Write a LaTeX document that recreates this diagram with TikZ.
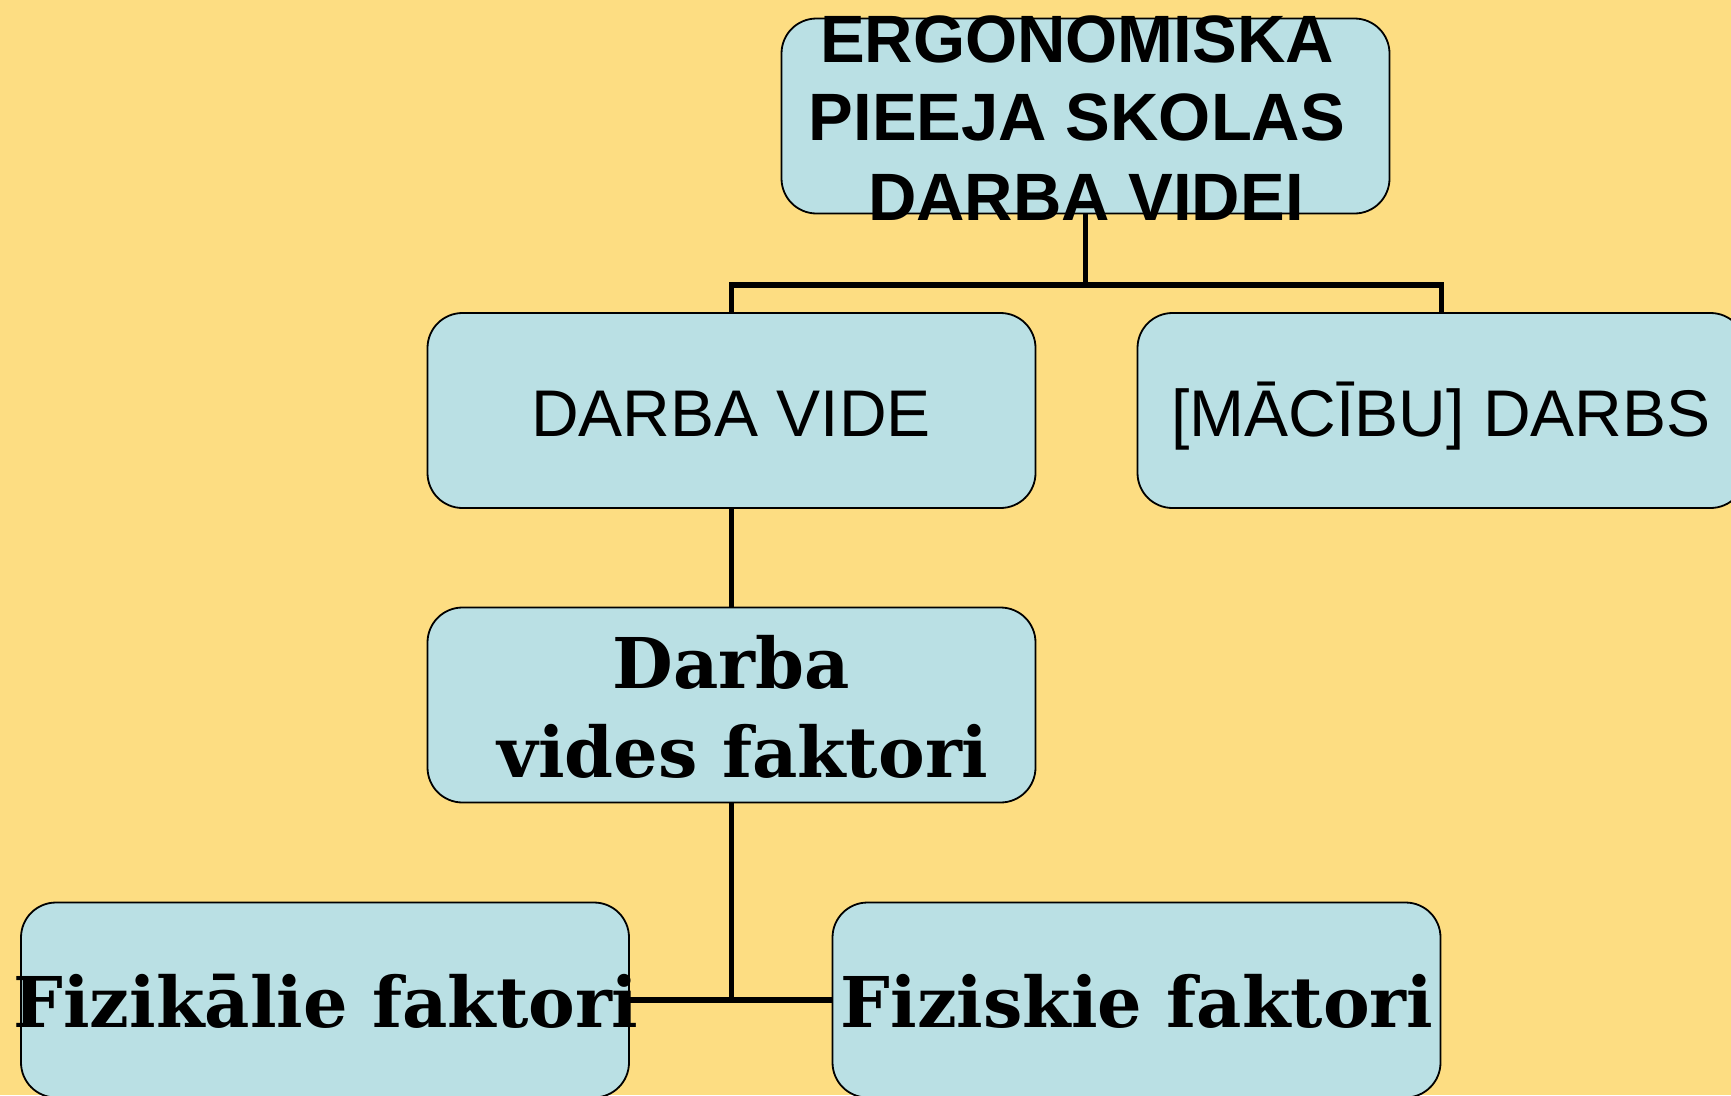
\documentclass[tikz,border=0pt]{standalone}
\usepackage{fontspec}
\setmainfont{Liberation Sans}
\newfontfamily\serifbold{DejaVu Serif}[BoldFont={DejaVu Serif Bold}]
\definecolor{bgyellow}{RGB}{253,221,130}
\definecolor{boxblue}{RGB}{186,224,228}
\begin{document}
\begin{tikzpicture}[x=1pt,y=-1pt,
  boxnode/.style={draw=black,line width=1.8pt,fill=boxblue,rounded corners=35pt,
    minimum width=608pt,minimum height=195pt,inner sep=0pt},
  conn/.style={line width=5.5pt,draw=black},
  sanstitle/.style={font=\fontsize{67}{79}\selectfont\bfseries,anchor=base,inner sep=0pt},
  sansnorm/.style={font=\fontsize{66}{79}\selectfont,anchor=base,inner sep=0pt},
  seriftext/.style={font=\serifbold\fontsize{70}{80}\selectfont\bfseries,anchor=base,inner sep=0pt}]
\useasboundingbox (0,0) rectangle (1731,1095);
\clip (0,0) rectangle (1731,1095);
\fill[bgyellow] (0,0) rectangle (1731,1095);
% boxes
\node[boxnode] (top) at (1085.5,116) {};
\node[boxnode] (dv) at (731.5,410.5) {};
\node[boxnode] (mb) at (1441.5,410.5) {};
\node[boxnode] (dvf) at (731.5,705) {};
\node[boxnode] (fz) at (325,1000) {};
\node[boxnode] (fs) at (1136.5,1000) {};
% connectors
\coordinate (j1) at (1087,285);
\draw[conn] (top.south) -- (top.south |- j1);
\draw[conn] (dv.north) |- (j1) -| (mb.north);
\draw[conn] (dv.south) -- (dvf.north);
\draw[conn] (dvf.south) -- (dvf.south |- fz.east);
\draw[conn] (fz.east) -- (fs.west);
% texts
\node[sanstitle] (t1a) at (1077,62) {ERGONOMISKA};
\node[sanstitle] (t1b) at (1077,140) {PIEEJA SKOLAS};
\node[sanstitle] (t1c) at (1086,220) {DARBA VIDEI};
\node[sansnorm] (t2) at (731,436) {DARBA VIDE};
\node[sansnorm] (t3) at (1441,436) {[MĀCĪBU] DARBS};
\node[seriftext] (t4a) at (731,688) {Darba};
\node[seriftext] (t4b) at (743,777) {vides faktori};
\node[seriftext] (t5) at (326,1027) {Fizikālie faktori};
\node[seriftext] (t6) at (1137,1027) {Fiziskie faktori};
\end{tikzpicture}
\end{document}
